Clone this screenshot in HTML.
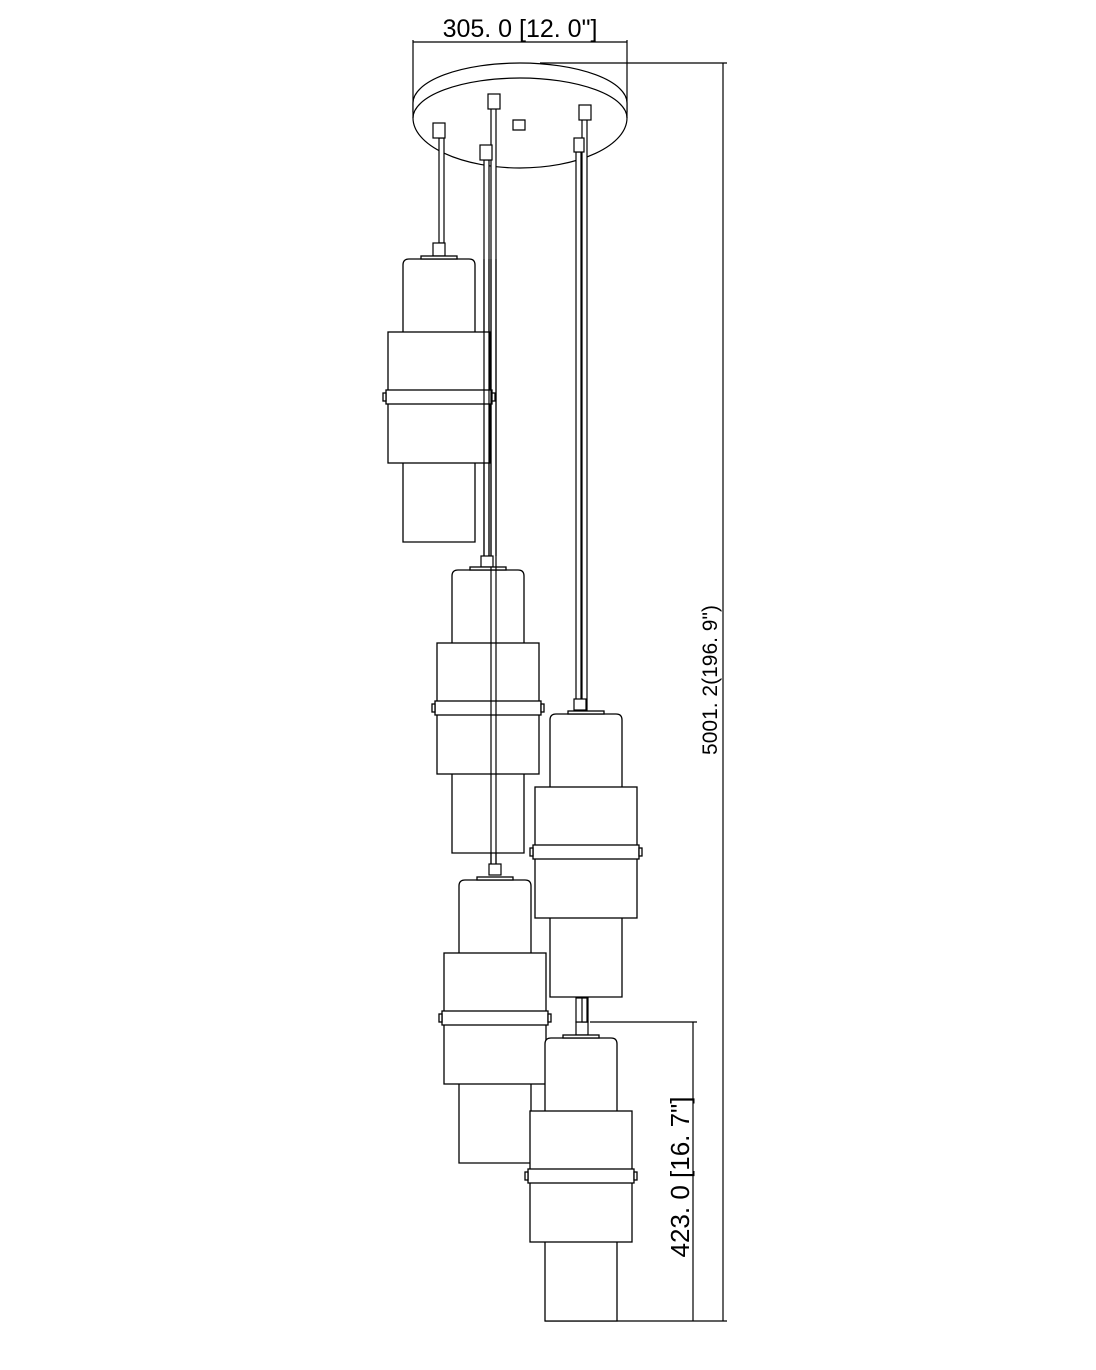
<!DOCTYPE html>
<html><head><meta charset="utf-8"><style>
html,body{margin:0;padding:0;background:#fff;}
svg{display:block}
text{font-family:"Liberation Sans","DejaVu Sans",sans-serif;fill:#000}
</style></head><body>
<svg width="1096" height="1370" viewBox="0 0 1096 1370" xmlns="http://www.w3.org/2000/svg">
<defs>
<g id="p" fill="#fff" stroke="#000" stroke-width="1.3">
  <path d="M0,283 V6 Q0,0 6,0 H66 Q72,0 72,6 V283 Z"/>
  <rect x="18" y="-3" width="36" height="3"/>
  <rect x="-15" y="73" width="102" height="131"/>
  <rect x="-17" y="131" width="106" height="14"/>
  <rect x="-20" y="134" width="3" height="8"/>
  <rect x="89" y="134" width="3" height="8"/>
</g>
</defs>
<g fill="none" stroke="#000" stroke-width="1.2">
  <line x1="413" y1="40" x2="413" y2="112"/>
  <line x1="627" y1="40" x2="627" y2="112"/>
  <line x1="413" y1="42" x2="627" y2="42"/>
  <line x1="540" y1="63" x2="727" y2="63"/>
  <line x1="723" y1="63" x2="723" y2="1321"/>
  <line x1="545" y1="1321" x2="727" y2="1321"/>
  <line x1="590" y1="1022" x2="697" y2="1022"/>
  <line x1="693" y1="1022" x2="693" y2="1321"/>
  <path d="M413,103 A107,40 0 0 1 627,103 V118 A107,50 0 0 1 413,118 Z" fill="#fff"/>
  <path d="M413,118 A107,40 0 0 1 627,118"/>
  <path d="M513,120 h12 v10 h-12 z" fill="#fff"/>
</g>
<g fill="#fff" stroke="#000" stroke-width="1.2">
  <rect x="439" y="138" width="5" height="105"/>
  <rect x="484" y="160" width="5" height="400"/>
  <rect x="491" y="108" width="5" height="757"/>
  <rect x="576" y="152" width="5" height="548"/>
  <rect x="582" y="118" width="5" height="902"/>
  <rect x="433" y="123" width="12" height="15"/>
  <rect x="480" y="145" width="12" height="15"/>
  <rect x="488" y="94" width="12" height="15"/>
  <rect x="574" y="138" width="10" height="14"/>
  <rect x="579" y="105" width="12" height="15"/>
  <rect x="433" y="243" width="12" height="13"/>
  <rect x="481" y="556" width="12" height="11"/>
  <rect x="489" y="864" width="12" height="11"/>
  <rect x="574" y="699" width="12" height="11"/>
  <rect x="576" y="1022" width="12" height="13"/>
</g>
<use href="#p" x="403" y="259"/>
<use href="#p" x="452" y="570"/>
<use href="#p" x="550" y="714"/>
<use href="#p" x="459" y="880"/>
<use href="#p" x="545" y="1038"/>
<rect x="576" y="998" width="12" height="24" fill="#fff" stroke="#000" stroke-width="1.2"/>
<rect x="582" y="998" width="5" height="24" fill="#fff" stroke="#000" stroke-width="1.2"/>
<g fill="none" stroke="#000" stroke-width="1.2">
  <line x1="491" y1="567" x2="491" y2="864"/><line x1="496" y1="567" x2="496" y2="864"/>
  <line x1="484" y1="259" x2="484" y2="556"/><line x1="489" y1="259" x2="489" y2="556"/>
  <line x1="491" y1="259" x2="491" y2="556"/><line x1="496" y1="259" x2="496" y2="556"/>
</g>
<text x="520" y="37" font-size="25" text-anchor="middle">305. 0 [12. 0"]</text>
<text transform="translate(717,680) rotate(-90)" font-size="21" text-anchor="middle">5001. 2(196. 9")</text>
<text transform="translate(689,1177) rotate(-90)" font-size="26" text-anchor="middle">423. 0 [16. 7"]</text>
</svg>
</body></html>
